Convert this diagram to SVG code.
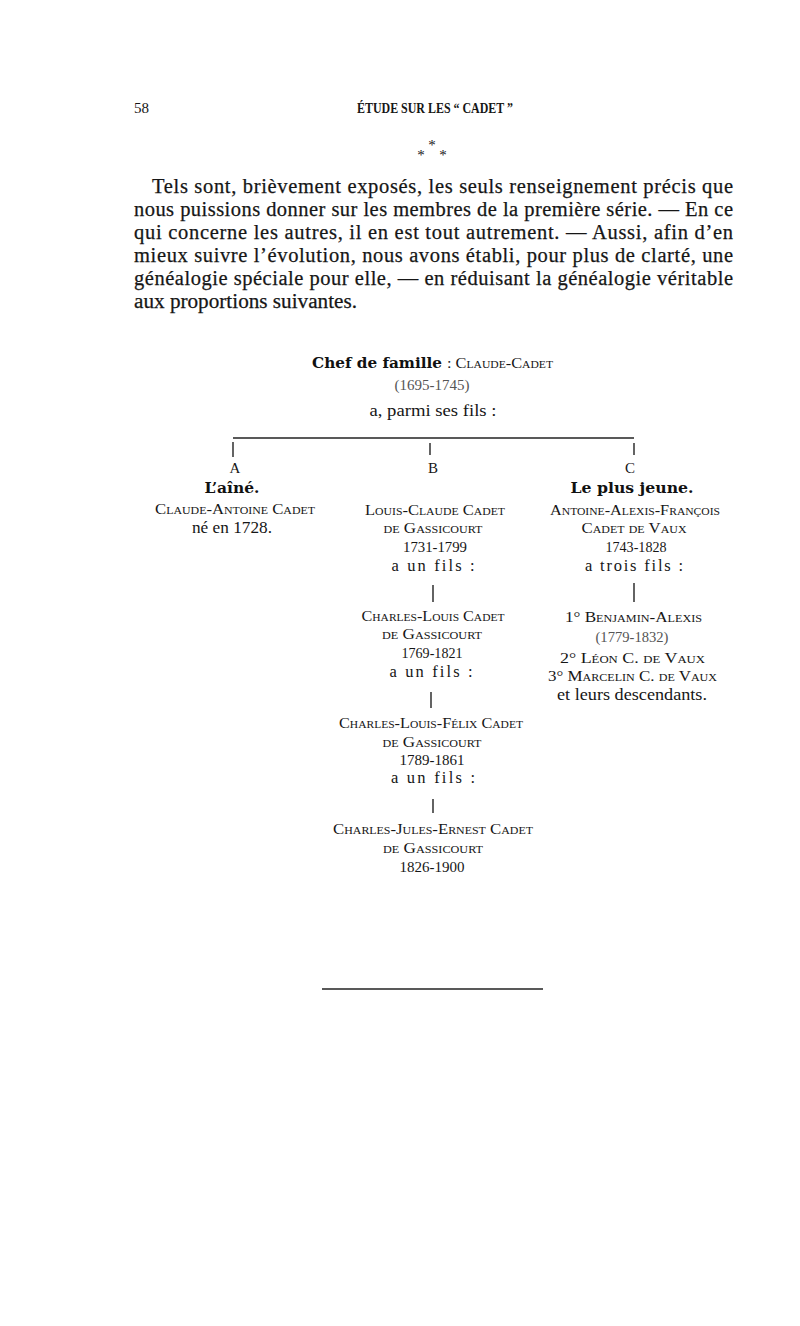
<svg xmlns="http://www.w3.org/2000/svg" width="800" height="1326" viewBox="0 0 800 1326">
<style>
.t{font-family:"Liberation Serif","DejaVu Serif",serif;fill:#161616}
.p{font-size:20.5px;stroke:#161616;stroke-width:0.25}
.sc{font-variant:small-caps;font-size:15.5px}
.n{font-size:15px}
.s{font-size:16.5px}
.g{fill:#555}
.b{font-family:"DejaVu Serif","Liberation Serif",serif;font-weight:bold;font-size:15px;fill:#111}
.m{text-anchor:middle}
.ln{stroke:#222;stroke-width:1.6;fill:none}
.tk{stroke:#222;stroke-width:1.4;fill:none}
</style>
<rect width="800" height="1326" fill="#ffffff"/>
<g id="header">
<text class="t" x="134" y="113" font-size="15" textLength="15">58</text>
<text class="t" x="357" y="113" font-size="15" font-weight="bold" textLength="156" lengthAdjust="spacingAndGlyphs">ÉTUDE SUR LES “ CADET ”</text>
<text class="t m" x="432" y="150" font-size="15">*</text>
<text class="t m" x="421" y="160" font-size="15">*</text>
<text class="t m" x="443" y="160" font-size="15">*</text>
</g>
<g id="paragraph">
<text class="t p" x="152" y="193" textLength="581" lengthAdjust="spacing">Tels sont, brièvement exposés, les seuls renseignement précis que</text>
<text class="t p" x="134" y="216" textLength="599" lengthAdjust="spacing">nous puissions donner sur les membres de la première série. — En ce</text>
<text class="t p" x="134" y="239" textLength="599" lengthAdjust="spacing">qui concerne les autres, il en est tout autrement. — Aussi, afin d’en</text>
<text class="t p" x="134" y="262" textLength="599" lengthAdjust="spacing">mieux suivre l’évolution, nous avons établi, pour plus de clarté, une</text>
<text class="t p" x="134" y="285" textLength="599" lengthAdjust="spacing">généalogie spéciale pour elle, — en réduisant la généalogie véritable</text>
<text class="t p" x="134" y="308" textLength="223" lengthAdjust="spacingAndGlyphs">aux proportions suivantes.</text>
</g>
<g id="chef">
<text class="b" x="312" y="368" textLength="130" lengthAdjust="spacingAndGlyphs">Chef de famille</text>
<text class="t sc" x="447" y="368" textLength="106" lengthAdjust="spacingAndGlyphs">: Claude-Cadet</text>
<text class="t n g m" x="432" y="390" textLength="75" lengthAdjust="spacingAndGlyphs">(1695-1745)</text>
<text class="t s m" x="433" y="416" textLength="127" lengthAdjust="spacingAndGlyphs">a, parmi ses fils :</text>
</g>
<g id="connectors">
<line class="ln" x1="233" y1="438" x2="634" y2="438"/>
<line class="tk" x1="233" y1="442" x2="233" y2="457"/>
<line class="tk" x1="430" y1="443" x2="430" y2="455"/>
<line class="tk" x1="634" y1="443" x2="634" y2="455"/>
<line class="tk" x1="433" y1="585" x2="433" y2="602"/>
<line class="tk" x1="431" y1="692" x2="431" y2="708"/>
<line class="tk" x1="433" y1="799" x2="433" y2="813"/>
<line class="tk" x1="634" y1="583" x2="634" y2="602"/>
</g>
<g id="nodeA">
<text class="t n m" x="235" y="473">A</text>
<text class="b m" x="232" y="493" textLength="55" lengthAdjust="spacingAndGlyphs">L’aîné.</text>
<text class="t sc m" x="235" y="514" textLength="160" lengthAdjust="spacingAndGlyphs">Claude-Antoine Cadet</text>
<text class="t s m" x="232" y="533" textLength="80" lengthAdjust="spacingAndGlyphs">né en 1728.</text>
</g>
<g id="nodeB1">
<text class="t n m" x="433" y="473">B</text>
<text class="t sc m" x="435" y="515" textLength="140" lengthAdjust="spacingAndGlyphs">Louis-Claude Cadet</text>
<text class="t sc m" x="433" y="533" textLength="99" lengthAdjust="spacingAndGlyphs">de Gassicourt</text>
<text class="t n m" x="435" y="552" textLength="64" lengthAdjust="spacingAndGlyphs">1731-1799</text>
<text class="t s m" x="433" y="571" textLength="83" lengthAdjust="spacing">a un fils :</text>
</g>
<g id="nodeB2">
<text class="t sc m" x="433" y="621" textLength="143" lengthAdjust="spacingAndGlyphs">Charles-Louis Cadet</text>
<text class="t sc m" x="432" y="639" textLength="100" lengthAdjust="spacingAndGlyphs">de Gassicourt</text>
<text class="t n m" x="432" y="658" textLength="61" lengthAdjust="spacingAndGlyphs">1769-1821</text>
<text class="t s m" x="431" y="677" textLength="83" lengthAdjust="spacing">a un fils :</text>
</g>
<g id="nodeB3">
<text class="t sc m" x="431" y="728" textLength="184" lengthAdjust="spacingAndGlyphs">Charles-Louis-Félix Cadet</text>
<text class="t sc m" x="432" y="747" textLength="99" lengthAdjust="spacingAndGlyphs">de Gassicourt</text>
<text class="t n m" x="432" y="765" textLength="65" lengthAdjust="spacingAndGlyphs">1789-1861</text>
<text class="t s m" x="433" y="783" textLength="84" lengthAdjust="spacing">a un fils :</text>
</g>
<g id="nodeB4">
<text class="t sc m" x="433" y="834" textLength="200" lengthAdjust="spacingAndGlyphs">Charles-Jules-Ernest Cadet</text>
<text class="t sc m" x="433" y="853" textLength="100" lengthAdjust="spacingAndGlyphs">de Gassicourt</text>
<text class="t n m" x="432" y="872" textLength="65" lengthAdjust="spacingAndGlyphs">1826-1900</text>
</g>
<g id="nodeC">
<text class="t n m" x="630" y="473">C</text>
<text class="b m" x="632" y="493" textLength="123" lengthAdjust="spacingAndGlyphs">Le plus jeune.</text>
<text class="t sc m" x="635" y="515" textLength="170" lengthAdjust="spacingAndGlyphs">Antoine-Alexis-François</text>
<text class="t sc m" x="634" y="533" textLength="105" lengthAdjust="spacingAndGlyphs">Cadet de Vaux</text>
<text class="t n m" x="636" y="552" textLength="61" lengthAdjust="spacingAndGlyphs">1743-1828</text>
<text class="t s m" x="634" y="571" textLength="98" lengthAdjust="spacing">a trois fils :</text>
</g>
<g id="nodeC-sons">
<text class="t sc" x="565" y="622" textLength="137" lengthAdjust="spacingAndGlyphs">1° Benjamin-Alexis</text>
<text class="t n g m" x="632" y="642" textLength="73" lengthAdjust="spacingAndGlyphs">(1779-1832)</text>
<text class="t sc" x="560" y="663" textLength="145" lengthAdjust="spacingAndGlyphs">2° Léon C. de Vaux</text>
<text class="t sc" x="548" y="681" textLength="169" lengthAdjust="spacingAndGlyphs">3° Marcelin C. de Vaux</text>
<text class="t s" x="557" y="700" textLength="150" lengthAdjust="spacingAndGlyphs">et leurs descendants.</text>
</g>
<g id="footer">
<line class="ln" x1="322" y1="989" x2="543" y2="989" stroke-width="1.3"/>
</g>
</svg>
